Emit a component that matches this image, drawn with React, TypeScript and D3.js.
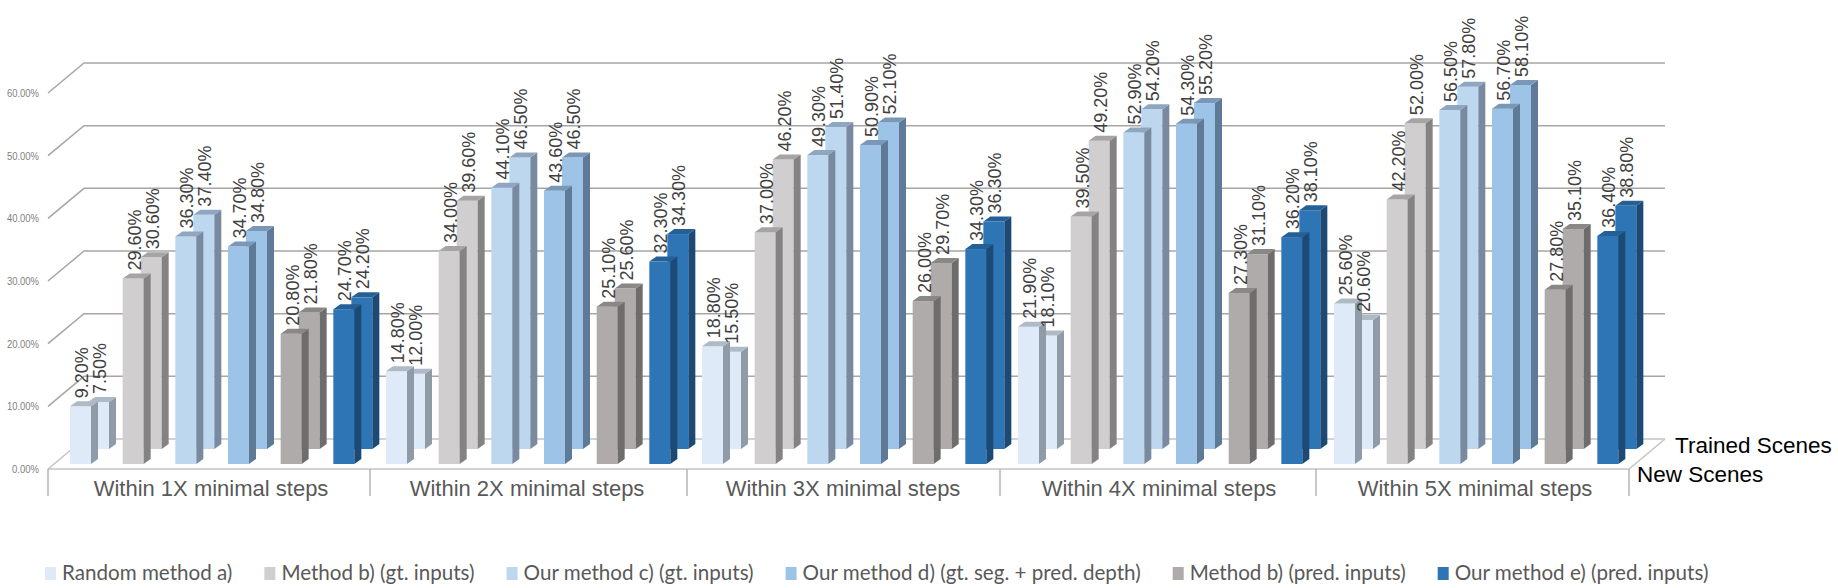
import React, { useRef, useEffect } from 'react';
import * as d3 from 'd3';

const categories = [
  'Within 1X minimal steps',
  'Within 2X minimal steps',
  'Within 3X minimal steps',
  'Within 4X minimal steps',
  'Within 5X minimal steps',
];

const seriesNames = [
  'Random method a)',
  'Method b) (gt. inputs)',
  'Our method c) (gt. inputs)',
  'Our method d) (gt. seg. + pred. depth)',
  'Method b) (pred. inputs)',
  'Our method e) (pred. inputs)',
];

// one row per category, one value per series
const newScenes = [
  [9.2, 29.6, 36.3, 34.7, 20.8, 24.7],
  [14.8, 34.0, 44.1, 43.6, 25.1, 32.3],
  [18.8, 37.0, 49.3, 50.9, 26.0, 34.3],
  [21.9, 39.5, 52.9, 54.3, 27.3, 36.2],
  [25.6, 42.2, 56.5, 56.7, 27.8, 36.4],
];

const trainedScenes = [
  [7.5, 30.6, 37.4, 34.8, 21.8, 24.2],
  [12.0, 39.6, 46.5, 46.5, 25.6, 34.3],
  [15.5, 46.2, 51.4, 52.1, 29.7, 36.3],
  [18.1, 49.2, 54.2, 55.2, 31.1, 38.1],
  [20.6, 52.0, 57.8, 58.1, 35.1, 38.8],
];

const yTicks = [0, 10, 20, 30, 40, 50, 60];

const faceColors = ['#deeaf8', '#d0cece', '#bdd7ee', '#9dc3e6', '#afabab', '#2e75b6'];
const sideColors = ['#8f9ba6', '#848282', '#7889a0', '#5f7a96', '#6e6c6c', '#1c4a75'];
const topColors = ['#aebac6', '#a6a4a4', '#8fa6c0', '#7a97b8', '#8a8787', '#245f96'];

const width = 1838;
const height = 588;
const font = '"Liberation Sans", Arial, sans-serif';

export default function App() {
  const svgRef = useRef<SVGSVGElement>(null);

  useEffect(() => {
    if (!svgRef.current) return;
    const svg = d3.select(svgRef.current);
    svg.selectAll('*').remove();

    const floorY = 469;
    const depth = { x: 36, y: -30 };
    const barDepth = { x: 7, y: -5 };
    const barWidth = 21;
    const rowOffset = { x: 18, y: -15 };

    const x0 = d3.scaleBand().domain(categories).range([53, 1633]);
    const x1 = d3.scaleBand().domain(seriesNames).range([0, x0.bandwidth()]);
    const h = d3.scaleLinear().domain([0, 60]).range([0, 376]);

    // grid on the floor and the back wall
    const gridColor = '#a6a6a6';
    const axisLeft = 48;
    const axisRight = 1629;
    const grid = svg.append('g');
    yTicks.forEach(t => {
      const yy = floorY - h(t);
      grid.append('path')
        .attr('fill', 'none')
        .attr('stroke', t === 0 ? '#c4c4c4' : gridColor)
        .attr('stroke-width', 1.5)
        .attr('d', `M${axisLeft},${yy}L${axisLeft + depth.x},${yy + depth.y}L${axisRight + depth.x},${yy + depth.y}`);
    });
    grid.append('path')
      .attr('fill', 'none')
      .attr('stroke', '#c4c4c4')
      .attr('stroke-width', 1.5)
      .attr('d', `M${axisLeft},${floorY}L${axisRight},${floorY}L${axisRight + depth.x},${floorY + depth.y}`);

    // category dividers sit slightly unevenly in the source
    [48, 370, 687, 1000, 1316, 1629].forEach(d => {
      grid.append('line')
        .attr('x1', d).attr('x2', d)
        .attr('y1', floorY).attr('y2', 496)
        .attr('stroke', '#b4b4b4')
        .attr('stroke-width', 1.5);
    });

    const drawBar = (g: any, left: number, base: number, value: number, s: number) => {
      const top = base - h(value);
      g.append('rect')
        .attr('x', left).attr('y', top)
        .attr('width', barWidth).attr('height', base - top)
        .attr('fill', faceColors[s]);
      g.append('path')
        .attr('fill', sideColors[s])
        .attr('d', `M${left + barWidth},${top}l${barDepth.x},${barDepth.y}V${base + barDepth.y}l${-barDepth.x},${-barDepth.y}Z`);
      g.append('path')
        .attr('fill', topColors[s])
        .attr('d', `M${left},${top}l${barDepth.x},${barDepth.y}h${barWidth}l${-barDepth.x},${-barDepth.y}Z`);
    };

    const bars = svg.append('g');
    const frontBase = 464;
    const backBase = frontBase + rowOffset.y;
    const barLeft = (c: number, s: number) => (x0(categories[c]) || 0) + (x1(seriesNames[s]) || 0) + 17;

    // trained row goes behind the new row
    categories.forEach((_, c) => seriesNames.forEach((_, s) => {
      drawBar(bars, barLeft(c, s) + rowOffset.x, backBase, trainedScenes[c][s], s);
    }));
    categories.forEach((_, c) => seriesNames.forEach((_, s) => {
      drawBar(bars, barLeft(c, s), frontBase, newScenes[c][s], s);
    }));

    // value labels
    const labels = svg.append('g')
      .attr('font-family', font)
      .attr('font-size', 18)
      .attr('fill', '#404040');
    const addLabel = (left: number, base: number, value: number) => {
      const lx = left + 18;
      const ly = base - h(value) + barDepth.y - 3;
      labels.append('text')
        .attr('transform', `translate(${lx},${ly}) rotate(-90)`)
        .text(`${value.toFixed(2)}%`);
    };
    categories.forEach((_, c) => seriesNames.forEach((_, s) => {
      addLabel(barLeft(c, s), frontBase, newScenes[c][s]);
      addLabel(barLeft(c, s) + rowOffset.x, backBase, trainedScenes[c][s]);
    }));

    // y axis labels
    svg.append('g')
      .selectAll('text')
      .data(yTicks)
      .enter()
      .append('text')
      .attr('x', 39)
      .attr('y', d => floorY - h(d) + 4)
      .attr('text-anchor', 'end')
      .attr('font-family', font)
      .attr('font-size', 11)
      .attr('fill', '#7f7f7f')
      .attr('textLength', d => (d === 0 ? 27 : 32))
      .attr('lengthAdjust', 'spacingAndGlyphs')
      .text(d => `${d.toFixed(2)}%`);

    // category labels
    svg.append('g')
      .selectAll('text')
      .data(categories)
      .enter()
      .append('text')
      .attr('x', d => (x0(d) || 0) + x0.bandwidth() / 2)
      .attr('y', 496)
      .attr('text-anchor', 'middle')
      .attr('font-family', font)
      .attr('font-size', 22)
      .attr('fill', '#595959')
      .text(d => d);

    // depth axis labels
    svg.append('text')
      .attr('x', 1675).attr('y', 453)
      .attr('font-family', font).attr('font-size', 22.5).attr('fill', '#000')
      .text('Trained Scenes');
    svg.append('text')
      .attr('x', 1637).attr('y', 482)
      .attr('font-family', font).attr('font-size', 22.5).attr('fill', '#000')
      .text('New Scenes');

    // legend, laid out left to right from the measured text widths
    const legend = svg.append('g');
    let cursor = 45;
    seriesNames.forEach((name, s) => {
      legend.append('rect')
        .attr('x', cursor).attr('y', 567)
        .attr('width', 11).attr('height', 13)
        .attr('fill', faceColors[s]);
      const label = legend.append('text')
        .attr('x', cursor + 17).attr('y', 580)
        .attr('font-family', 'Lato, "Open Sans", sans-serif')
        .attr('font-size', 20.6)
        .attr('fill', '#595959')
        .text(name);
      const node = label.node() as SVGTextElement;
      cursor += 17 + node.getComputedTextLength() + 32;
    });
  }, []);

  return (
    <svg
      ref={svgRef}
      width={width}
      height={height}
      style={{ position: 'absolute', left: 0, top: 0, background: '#fff' }}
    />
  );
}
